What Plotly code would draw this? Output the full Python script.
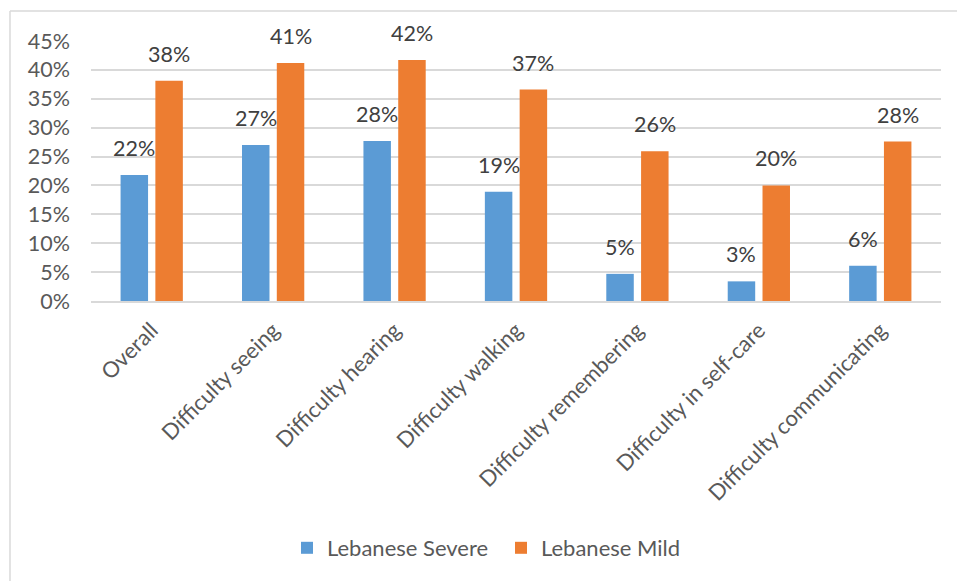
import plotly.graph_objects as go

categories = [
    "Overall",
    "Difficulty seeing",
    "Difficulty hearing",
    "Difficulty walking",
    "Difficulty remembering",
    "Difficulty in self-care",
    "Difficulty communicating",
]
severe = [0.218, 0.270, 0.277, 0.189, 0.047, 0.034, 0.061]
mild = [0.381, 0.412, 0.417, 0.366, 0.259, 0.200, 0.276]
y_ticks = [0, 0.05, 0.10, 0.15, 0.20, 0.25, 0.30, 0.35, 0.40, 0.45]

BLUE = "#5B9BD5"
ORANGE = "#ED7D31"
FONT = "Lato"

fig = go.Figure()
fig.add_trace(go.Bar(name="Lebanese Severe", x=categories, y=severe,
                     marker=dict(color=BLUE, line=dict(width=0))))
fig.add_trace(go.Bar(name="Lebanese Mild", x=categories, y=mild,
                     marker=dict(color=ORANGE, line=dict(width=0))))

# value labels above each bar
annotations = []
for vals, shift in ((severe, -17.4), (mild, 17.4)):
    for c, v in zip(categories, vals):
        annotations.append(dict(
            x=c, y=v, xref="x", yref="y", text=f"{v:.0%}",
            showarrow=False, xshift=shift, yshift=12, yanchor="bottom",
            font=dict(family=FONT, size=21.5, color="#404040"),
        ))

# chart-area border (top and left edges visible)
shapes = [
    dict(type="line", xref="paper", yref="paper", x0=-0.0953, x1=1.1,
         y0=1.1154, y1=1.1154, line=dict(color="#D9D9D9", width=1.5)),
    dict(type="line", xref="paper", yref="paper", x0=-0.0953, x1=-0.0953,
         y0=1.1154, y1=-1.2, line=dict(color="#D9D9D9", width=1.5)),
]

fig.update_layout(
    width=957, height=581,
    margin=dict(l=91, r=16, t=41, b=280),
    paper_bgcolor="white", plot_bgcolor="white",
    barmode="group", bargap=0.427, bargroupgap=0.21,
    font=dict(family=FONT, size=21.5, color="#595959"),
    showlegend=True,
    legend=dict(orientation="h", x=0.2306, xanchor="left", y=-0.95,
                yanchor="middle", font=dict(family=FONT, size=22, color="#595959"),
                itemwidth=30, entrywidth=169, traceorder="normal"),
    annotations=annotations,
    shapes=shapes,
)
fig.update_xaxes(tickangle=-45, showgrid=False, showline=True,
                 linecolor="#D9D9D9", linewidth=1.5, ticks="",
                 ticklabelstandoff=6,
                 tickfont=dict(family=FONT, size=22, color="#595959"))
fig.update_yaxes(range=[0, 0.45], tickvals=y_ticks, tickformat=".0%",
                 showgrid=True, gridcolor="#D9D9D9", gridwidth=1.5,
                 zeroline=False, showline=False, ticks="",
                 ticklabelstandoff=20,
                 tickfont=dict(family=FONT, size=21.5, color="#595959"))

fig.write_html("out.html")
